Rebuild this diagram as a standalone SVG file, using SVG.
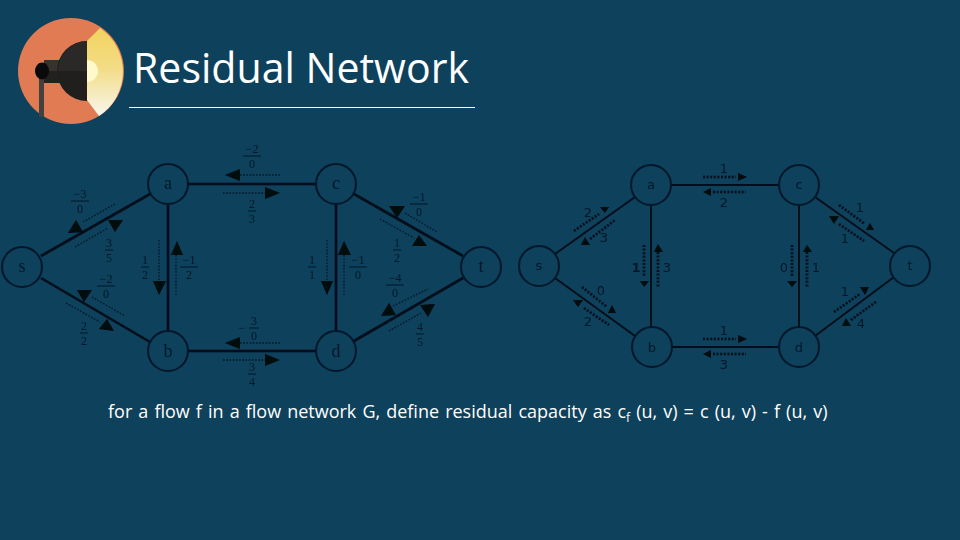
<svg xmlns="http://www.w3.org/2000/svg" width="960" height="540" viewBox="0 0 960 540">
<defs>
<linearGradient id="wedge" x1="0" y1="0" x2="0" y2="1"><stop offset="0" stop-color="#F2D35F"/><stop offset="0.45" stop-color="#F3DC85"/><stop offset="1" stop-color="#F8F7EE"/></linearGradient>
<filter id="soft" x="-5%" y="-5%" width="110%" height="110%"><feGaussianBlur stdDeviation="0.3"/></filter>
</defs>
<style>
.ttl{font-family:"Open Sans","Noto Sans",sans-serif;fill:#fff}
.body{font-family:"Open Sans","Noto Sans",sans-serif;font-size:18px;fill:#fff;word-spacing:1.4px}
.node circle{fill:none;stroke:#06182A;stroke-width:2}
.node text{font-size:18px;fill:#06182A;text-anchor:middle;font-family:"Liberation Serif",serif}
.rn text{font-size:13px;font-family:"DejaVu Sans",sans-serif}
.e{stroke:#030F1A;stroke-width:2.6;fill:none}
.e2{stroke:#030F1A;stroke-width:1.9;fill:none}
.dot{stroke:#06182A;stroke-width:1.3;stroke-dasharray:1.6 1.6;fill:none}
.dot2{stroke:#030F1A;stroke-width:2.6;stroke-dasharray:2 1.6;fill:none}
.tri{fill:#02080E}
.fr text{font-family:"Liberation Serif",serif;font-size:12px;fill:#06182A;text-anchor:middle}
.fr line{stroke:#06182A;stroke-width:1}
.lb{font-family:"DejaVu Sans",sans-serif;font-size:13px;fill:#06182A;text-anchor:middle}
</style>
<rect width="960" height="540" fill="#0E415B"/>
<g id="logo">
<circle cx="71" cy="71" r="53" fill="#E07B54"/>
<path d="M100 28A53 53 0 0 1 99 116L87 100V41Z" fill="url(#wedge)"/>
<path d="M87 60A11 11 0 0 1 87 82Z" fill="#FFF9CC"/>
<rect x="39" y="75" width="5" height="42" fill="#44403E"/>
<rect x="44" y="60" width="16" height="23" fill="#232120"/>
<rect x="44" y="60" width="16" height="11" fill="#36332F"/>
<path d="M87 41A30 30 0 0 0 87 101Z" fill="#211F1E"/>
<path d="M87 41A30 30 0 0 0 58 71H87Z" fill="#2B2927"/>
<ellipse cx="42" cy="71" rx="7" ry="8.500" fill="#0B0A0A"/>
</g>
<text id="title" class="ttl" x="133" y="83" font-size="42" textLength="336" lengthAdjust="spacingAndGlyphs">Residual Network</text>
<line id="rule" x1="129" y1="107.500" x2="475" y2="107.500" stroke="#fff" stroke-width="1"/>
<g id="graphs" filter="url(#soft)">
<g id="connectors">
<path class="e" d="M41 256L150 194M41 278L150 342M168 204V331M188 184H316M188 351H316M336 204V331M354 194L463 256M354 341L463 278"/>
<path class="e2" d="M555 254L635 197M555 278L635 336M651 205V327M671 185H779M672 347H779M799 205V327M815 197L894 253M815 336L894 277"/>
<path class="dot" d="M83 222L115 204M75 247L108 228M92 297L125 316M66 303L100 322M159 240V281M176 255V295M240 175H281M223 193H265M240 343H281M223 360H265M327 240V281M344 255V295M405 213L437 232M380 219L414 238M393 306L428 289M389 331L421 313"/>
<path class="dot2" d="M574 231L599 214M590 239L615 220M582 287L607 307M584 308L609 325M644 245V276M658 252V288M703 177H736M713 192H746M703 339H736M713 354H746M792 245V276M807 252V288M839 205L865 224M839 224L864 241M834 312L860 294M851 320L877 301"/>
<path class="tri" d="M68 233L83 232L76 220ZM108 220L123 220L115 232ZM77 290L92 290L84 302ZM99 329L114 331L107 319ZM153 281H166L159 295ZM171 255H183L177 241ZM225 175L240 169V181ZM280 193L265 187V199ZM225 343L240 337V349ZM280 360L265 354V366ZM321 281H333L327 295ZM338 255H351L344 241ZM389 206H405L397 218ZM412 246H427L419 235ZM381 316L396 315L389 303ZM420 305L435 304L428 317Z"/>
<path class="tri" d="M600 207H609L605 213ZM581 245H590L585 237ZM608 313H616L612 305ZM573 300H583L578 307ZM640 281H649L644 287ZM654 252H663L658 244ZM747 177L738 173V181ZM703 192L711 188V196ZM747 339L738 335V343ZM703 354L711 350V358ZM787 281H797L792 287ZM803 252H812L807 245ZM866 230H874L870 223ZM829 216H839L834 224ZM860 287H869L865 295ZM842 326H851L846 318Z"/>
</g>
<g id="s" class="node"><circle cx="22" cy="267" r="20"/><text x="22" y="272">s</text></g>
<g id="a" class="node"><circle cx="168" cy="184" r="20"/><text x="168" y="189">a</text></g>
<g id="b" class="node"><circle cx="168" cy="351" r="20"/><text x="168" y="357">b</text></g>
<g id="c" class="node"><circle cx="336" cy="184" r="20"/><text x="336" y="189">c</text></g>
<g id="d" class="node"><circle cx="336" cy="351" r="20"/><text x="336" y="357">d</text></g>
<g id="t" class="node"><circle cx="481" cy="267" r="20"/><text x="481" y="272">t</text></g>
<g id="s2" class="node rn"><circle cx="539" cy="266" r="20"/><text x="539" y="270">s</text></g>
<g id="a2" class="node rn"><circle cx="651" cy="185" r="20"/><text x="651" y="189">a</text></g>
<g id="b2" class="node rn"><circle cx="652" cy="347" r="20"/><text x="652" y="352">b</text></g>
<g id="c2" class="node rn"><circle cx="799" cy="185" r="20"/><text x="799" y="189">c</text></g>
<g id="d2" class="node rn"><circle cx="799" cy="347" r="20"/><text x="799" y="352">d</text></g>
<g id="t2" class="node rn"><circle cx="910" cy="266" r="20"/><text x="910" y="270">t</text></g>
<g id="fractions" class="fr">
<g transform="translate(80,201)"><text y="-3">−3</text><line x1="-9" x2="9"/><text y="12">0</text></g>
<g transform="translate(109,250)"><text y="-3">3</text><line x1="-4" x2="4"/><text y="12">5</text></g>
<g transform="translate(106,286)"><text y="-3">−2</text><line x1="-9" x2="9"/><text y="12">0</text></g>
<g transform="translate(84,333)"><text y="-3">2</text><line x1="-4" x2="4"/><text y="12">2</text></g>
<g transform="translate(145,267)"><text y="-3">1</text><line x1="-4" x2="4"/><text y="12">2</text></g>
<g transform="translate(189,267)"><text y="-3">−1</text><line x1="-9" x2="9"/><text y="12">2</text></g>
<g transform="translate(252,156)"><text y="-3">−2</text><line x1="-9" x2="9"/><text y="12">0</text></g>
<g transform="translate(252,211)"><text y="-3">2</text><line x1="-4" x2="4"/><text y="12">3</text></g>
<g transform="translate(252,328)"><text x="-10" y="4">−</text><text x="2" y="-3">3</text><line x1="-3" x2="7"/><text x="2" y="12">0</text></g>
<g transform="translate(252,374)"><text y="-3">3</text><line x1="-4" x2="4"/><text y="12">4</text></g>
<g transform="translate(312,267)"><text y="-3">1</text><line x1="-4" x2="4"/><text y="12">1</text></g>
<g transform="translate(358,267)"><text y="-3">−1</text><line x1="-9" x2="9"/><text y="12">0</text></g>
<g transform="translate(419,204)"><text y="-3">−1</text><line x1="-9" x2="9"/><text y="12">0</text></g>
<g transform="translate(397,250)"><text y="-3">1</text><line x1="-4" x2="4"/><text y="12">2</text></g>
<g transform="translate(395,285)"><text y="-3">−4</text><line x1="-9" x2="9"/><text y="12">0</text></g>
<g transform="translate(420,334)"><text y="-3">4</text><line x1="-4" x2="4"/><text y="12">5</text></g>
</g>
<g id="labels">
<text class="lb" x="724" y="173">1</text><text class="lb" x="724" y="207">2</text>
<text class="lb" x="724" y="335">1</text><text class="lb" x="724" y="369">3</text>
<text class="lb" x="588" y="217">2</text><text class="lb" x="604" y="242">3</text>
<text class="lb" x="601" y="295">0</text><text class="lb" x="588" y="326">2</text>
<text class="lb" x="636" y="272" font-weight="bold">1</text><text class="lb" x="667" y="272">3</text>
<text class="lb" x="784" y="272">0</text><text class="lb" x="816" y="272">1</text>
<text class="lb" x="860" y="212">1</text><text class="lb" x="845" y="243">1</text>
<text class="lb" x="845" y="296">1</text><text class="lb" x="861" y="328">4</text>
</g>
</g>
<text id="caption" class="body" x="108" y="418">for a flow f in a flow network G, define residual capacity as c<tspan font-size="12" dy="4">f</tspan><tspan dy="-4"> (u, v) = c (u, v) - f (u, v)</tspan></text>
</svg>
